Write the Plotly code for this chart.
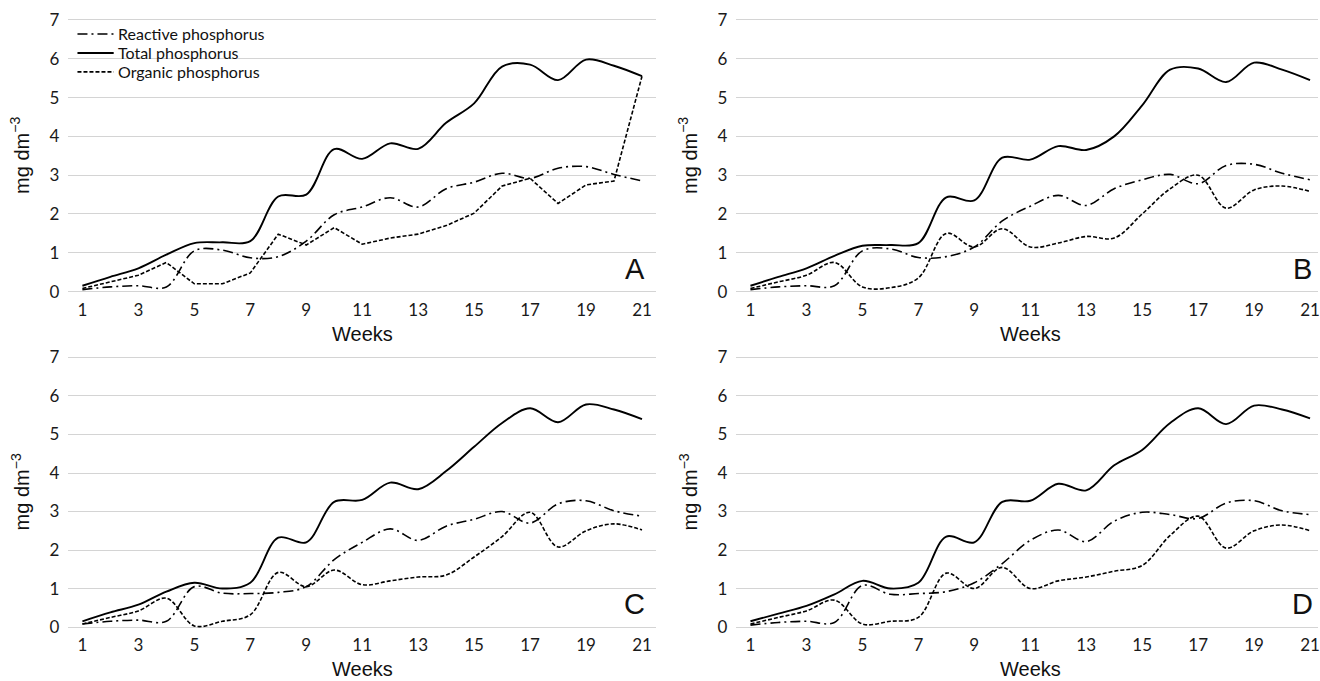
import plotly.graph_objects as go

weeks = [1, 2, 3, 4, 5, 6, 7, 8, 9, 10, 11, 12, 13, 14, 15, 16, 17, 18, 19, 20, 21]
week_ticks = [1, 3, 5, 7, 9, 11, 13, 15, 17, 19, 21]
y_ticks = [0, 1, 2, 3, 4, 5, 6, 7]

# Panel A
a_reactive = [0.05, 0.12, 0.15, 0.12, 1.05, 1.07, 0.87, 0.90, 1.30, 1.98, 2.18, 2.42, 2.18, 2.65, 2.82, 3.05, 2.92, 3.18, 3.22, 3.02, 2.85]
a_total = [0.15, 0.38, 0.60, 0.95, 1.25, 1.27, 1.30, 2.45, 2.50, 3.67, 3.42, 3.82, 3.68, 4.35, 4.85, 5.80, 5.85, 5.45, 5.98, 5.82, 5.55]
a_organic = [0.08, 0.25, 0.42, 0.75, 0.20, 0.20, 0.48, 1.48, 1.20, 1.65, 1.22, 1.38, 1.48, 1.70, 2.02, 2.72, 2.92, 2.27, 2.75, 2.85, 5.55]

# Panel B
b_reactive = [0.05, 0.12, 0.15, 0.15, 1.05, 1.10, 0.88, 0.90, 1.15, 1.82, 2.20, 2.48, 2.22, 2.65, 2.88, 3.02, 2.78, 3.25, 3.28, 3.05, 2.88]
b_total = [0.15, 0.38, 0.60, 0.92, 1.18, 1.20, 1.25, 2.43, 2.35, 3.45, 3.40, 3.75, 3.65, 4.00, 4.80, 5.72, 5.75, 5.40, 5.90, 5.72, 5.45]
b_organic = [0.08, 0.25, 0.42, 0.75, 0.12, 0.10, 0.35, 1.50, 1.15, 1.62, 1.15, 1.25, 1.42, 1.38, 2.00, 2.65, 3.00, 2.15, 2.62, 2.72, 2.58]

# Panel C
c_reactive = [0.08, 0.15, 0.18, 0.15, 1.05, 0.88, 0.87, 0.90, 1.05, 1.75, 2.20, 2.55, 2.25, 2.62, 2.80, 3.00, 2.70, 3.20, 3.28, 3.02, 2.88]
c_total = [0.15, 0.38, 0.58, 0.92, 1.15, 1.00, 1.15, 2.32, 2.20, 3.25, 3.30, 3.75, 3.58, 4.05, 4.68, 5.30, 5.68, 5.32, 5.78, 5.65, 5.40]
c_organic = [0.08, 0.25, 0.42, 0.75, 0.03, 0.15, 0.32, 1.42, 1.05, 1.48, 1.10, 1.20, 1.30, 1.35, 1.82, 2.35, 2.98, 2.08, 2.50, 2.68, 2.52]

# Panel D
d_reactive = [0.05, 0.12, 0.15, 0.12, 1.08, 0.85, 0.87, 0.92, 1.15, 1.65, 2.25, 2.52, 2.22, 2.75, 2.98, 2.92, 2.82, 3.22, 3.28, 3.02, 2.92]
d_total = [0.15, 0.35, 0.55, 0.85, 1.20, 1.00, 1.15, 2.35, 2.20, 3.25, 3.28, 3.72, 3.55, 4.20, 4.60, 5.30, 5.68, 5.27, 5.75, 5.65, 5.42]
d_organic = [0.08, 0.25, 0.42, 0.70, 0.08, 0.15, 0.25, 1.40, 1.00, 1.55, 1.00, 1.20, 1.30, 1.45, 1.60, 2.38, 2.88, 2.05, 2.50, 2.65, 2.50]

panel_letters = ["A", "B", "C", "D"]
series_names = ["Reactive phosphorus", "Total phosphorus", "Organic phosphorus"]

W, H = 1320, 681
# effective drawing area observed on the page (pixels)
PL, PR, PT, PB = 3.0, 1313.0, 9.0, 672.0

def px(xp):
    return min(1.0, max(0.0, (xp - PL) / (PR - PL)))

def py(yp):
    return min(1.0, max(0.0, 1 - (yp - PT) / (PB - PT)))

Y_PAD = 0.03

panels = [
    dict(data=(a_reactive, a_total, a_organic), x0=71, x1=655, p7=19, p0=291, shapes=("spline", "spline", "linear")),
    dict(data=(b_reactive, b_total, b_organic), x0=735, x1=1319, p7=19, p0=291, shapes=("spline", "spline", "spline")),
    dict(data=(c_reactive, c_total, c_organic), x0=71, x1=655, p7=357, p0=627, shapes=("spline", "spline", "spline")),
    dict(data=(d_reactive, d_total, d_organic), x0=735, x1=1319, p7=357, p0=627, shapes=("spline", "spline", "spline")),
]

dashes = ["10px,4px,2px,4px", "solid", "4px,2px"]
widths = [1.6, 1.9, 1.6]

fig = go.Figure()
tick_font = dict(family="Lato, Carlito, Calibri, sans-serif", size=17, color="#1a1a1a")
title_font = dict(family="Liberation Sans, Arial, sans-serif", size=20, color="#111111")

annotations = []
shapes = []
layout_axes = {}
for i, p in enumerate(panels):
    n = "" if i == 0 else str(i + 1)
    xa, ya = "x" + n, "y" + n
    for j, vals in enumerate(p["data"]):
        fig.add_trace(go.Scatter(
            x=weeks, y=vals, mode="lines", name=series_names[j],
            line=dict(color="black", width=widths[j], dash=dashes[j], shape=p["shapes"][j], smoothing=1.0),
            xaxis=xa, yaxis=ya, showlegend=False,
        ))
    # x: categories 1..21 occupy full width with half-category padding
    per_wk = (p["x1"] - p["x0"]) / 21.0
    x1_eff = min(p["x1"], PR)
    xr = [0.5, 0.5 + (x1_eff - p["x0"]) / per_wk]
    per_u = (p["p0"] - p["p7"]) / 7.0
    top = p["p7"] - Y_PAD * per_u
    bot = p["p0"] + Y_PAD * per_u
    layout_axes["xaxis" + n] = dict(
        domain=[px(p["x0"]), px(x1_eff)], range=xr, anchor=ya,
        tickvals=week_ticks, ticktext=[str(t) for t in week_ticks],
        showgrid=False, zeroline=False, showline=False, ticks="",
        tickfont=tick_font, ticklabelstandoff=5, ticklabeloverflow="allow",
    )
    layout_axes["yaxis" + n] = dict(
        domain=[py(bot), py(top)], range=[-Y_PAD, 7 + Y_PAD], anchor=xa,
        tickvals=y_ticks, ticktext=[str(t) for t in y_ticks],
        showgrid=True, gridcolor="#d4d4d4", gridwidth=1.3, zeroline=False, showline=False, ticks="",
        tickfont=tick_font, ticklabelstandoff=8, ticklabeloverflow="allow",
    )
    xc = (p["x0"] + p["x1"]) / 2
    annotations.append(dict(text="Weeks", x=px(xc), y=py(p["p0"] + 42), xref="paper", yref="paper",
                            showarrow=False, font=title_font, xanchor="center", yanchor="middle"))
    annotations.append(dict(text="mg dm<sup>\u22123</sup>", x=px(p["x0"] - 48), y=py((p["p7"] + p["p0"]) / 2),
                            xref="paper", yref="paper", showarrow=False, font=title_font, textangle=-90,
                            xanchor="center", yanchor="middle"))
    annotations.append(dict(text=panel_letters[i], x=px(p["x1"] - 21), y=py(p["p0"] - 23),
                            xref="paper", yref="paper", showarrow=False,
                            font=dict(family="Liberation Sans, Arial, sans-serif", size=29, color="#111111"),
                            xanchor="center", yanchor="middle"))

# Legend of panel A (white box over gridlines, line samples and labels)
legend_rows = [33, 52, 71]
shapes.append(dict(type="rect", xref="paper", yref="paper", layer="between",
                   x0=px(73), x1=px(282), y0=py(82), y1=py(23),
                   fillcolor="white", line=dict(width=0)))
for j, name in enumerate(series_names):
    yy = legend_rows[j]
    shapes.append(dict(type="line", xref="paper", yref="paper", layer="above",
                       x0=px(80), x1=px(116), y0=py(yy), y1=py(yy),
                       line=dict(color="black", width=widths[j], dash=dashes[j])))
    annotations.append(dict(text=name, x=px(118), y=py(yy), xref="paper", yref="paper",
                            showarrow=False, xanchor="left", yanchor="middle",
                            font=dict(family="Lato, Carlito, Calibri, sans-serif", size=16, color="#111111")))

fig.update_layout(
    width=W, height=H, autosize=False,
    margin=dict(l=0, r=0, t=0, b=0),
    paper_bgcolor="white", plot_bgcolor="white",
    annotations=annotations, shapes=shapes,
    showlegend=False,
    **layout_axes,
)

fig.write_html(
    "out.html",
    config={"displayModeBar": False},
    post_script="document.body.style.margin='0';document.body.style.padding='0';"
                "document.body.style.overflow='hidden';document.documentElement.style.overflow='hidden';",
)
